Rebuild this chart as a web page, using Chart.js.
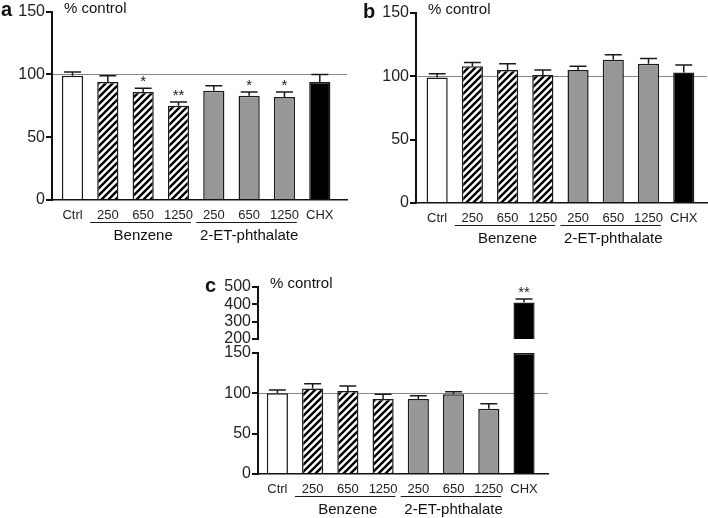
<!DOCTYPE html>
<html>
<head>
<meta charset="utf-8">
<script src="https://cdn.jsdelivr.net/npm/chart.js@4.4.1/dist/chart.umd.min.js"></script>
<style>
  html, body { margin: 0; padding: 0; background: #fff; }
  #wrap { position: relative; width: 708px; height: 518px; }
  canvas { position: absolute; }
</style>
</head>
<body>
<div id="wrap">
  <canvas id="chartA" width="354" height="260" style="left:0;top:0"></canvas>
  <canvas id="chartB" width="354" height="260" style="left:354px;top:0"></canvas>
  <canvas id="chartC" width="360" height="248" style="left:190px;top:270px"></canvas>
</div>
<script>
// Values (% of control, mean + upper error)
const categories = ['Ctrl', '250', '650', '1250', '250', '650', '1250', 'CHX'];
const groupNames = ['Benzene', '2-ET-phthalate'];
const groupFirst = [1, 4];
const groupLast = [3, 6];

const valuesA = [99, 94, 86, 75, 87, 83, 82, 94];
const errorsA = [3, 5, 3, 3, 4, 3, 4, 6];
const starsA = ['', '', '*', '**', '', '*', '*', ''];

const valuesB = [99, 108, 105, 101, 105, 113, 110, 103];
const errorsB = [3, 3, 5, 4, 3, 4, 4, 6];
const starsB = ['', '', '', '', '', '', '', ''];

const valuesC = [100, 106, 103, 93, 93, 99, 81, 411];
const errorsC = [4, 6, 6, 6, 4, 3, 6, 20];
const starsC = ['', '', '', '', '', '', '', '**'];

const yTicks = [0, 50, 100, 150];
const yTicksHigh = [200, 300, 400, 500];
const refValue = 100;

const FONT = "'Liberation Sans', Arial, sans-serif";
const INK = '#1a1a1a';
const AXIS = '#111';
const GRAY = '#979797';

// diagonal hatch for the benzene bars
function makeHatch(ctx) {
    const s = 7;
    const c = document.createElement('canvas');
    c.width = s; c.height = s;
    const g = c.getContext('2d');
    g.fillStyle = '#fff';
    g.fillRect(0, 0, s, s);
    g.strokeStyle = '#000';
    g.lineWidth = 2.4;
    g.beginPath();
    g.moveTo(0, s); g.lineTo(s, 0);
    g.moveTo(-s / 2, s / 2); g.lineTo(s / 2, -s / 2);
    g.moveTo(s / 2, s * 1.5); g.lineTo(s * 1.5, s / 2);
    g.stroke();
    return ctx.createPattern(c, 'repeat');
}

function barFills(ctx) {
    const hatch = makeHatch(ctx);
    return categories.map((c, i) => {
        if (i === 0) return '#fff';
        if (i >= groupFirst[0] && i <= groupLast[0]) return hatch;
        if (i >= groupFirst[1] && i <= groupLast[1]) return GRAY;
        return '#000';
    });
}

// y axis spine + outward ticks for each (sub)scale, drawn last
function makeAxisLines(yAxes) {
    return {
        id: 'axisLines',
        afterDraw(chart) {
            const { ctx, chartArea } = chart;
            ctx.save();
            ctx.setTransform(1, 0, 0, 1, 0, 0);
            ctx.globalAlpha = 1;
            ctx.globalCompositeOperation = 'source-over';
            ctx.fillStyle = AXIS;
            const ax = Math.round(chartArea.left);
            yAxes.forEach(([id, list]) => {
                const s = chart.scales[id];
                const yTop = Math.round(s.getPixelForValue(list[list.length - 1]));
                const yBot = Math.round(s.getPixelForValue(list[0]));
                ctx.fillRect(ax - 1, yTop, 2, yBot - yTop + 1);
                list.forEach(v => {
                    const ty = Math.round(s.getPixelForValue(v));
                    ctx.fillRect(ax - 6, ty - 1, 6, 2);
                });
            });
            ctx.restore();
        }
    };
}

// reference line, error bars, stars, letters and group labels
function makeDecor(cfg) {
    return {
        id: 'decor',
        beforeDatasetsDraw(chart) {
            const { ctx, chartArea } = chart;
            const y = Math.round(chart.scales[cfg.refAxis].getPixelForValue(refValue)) + 0.5;
            ctx.save();
            ctx.strokeStyle = '#858585';
            ctx.lineWidth = 1;
            ctx.beginPath();
            ctx.moveTo(chartArea.left, y);
            ctx.lineTo(chartArea.right, y);
            ctx.stroke();
            ctx.restore();
        },
        afterDatasetsDraw(chart) {
            const ctx = chart.ctx;
            ctx.save();
            ctx.strokeStyle = INK;
            ctx.lineWidth = 1.5;
            ctx.fillStyle = '#222';
            ctx.font = '15px ' + FONT;
            ctx.textAlign = 'center';
            ctx.textBaseline = 'bottom';
            chart.data.datasets.forEach((ds, di) => {
                const meta = chart.getDatasetMeta(di);
                const ys = chart.scales[meta.yAxisID];
                meta.data.forEach((bar, i) => {
                    const err = ds.errs[i];
                    const v = ds.data[i].y;
                    if (err == null || v == null) return;
                    const top = ys.getPixelForValue(v + err);
                    const half = bar.width * 0.4;
                    ctx.beginPath();
                    ctx.moveTo(bar.x, bar.y);
                    ctx.lineTo(bar.x, top);
                    ctx.moveTo(bar.x - half, top);
                    ctx.lineTo(bar.x + half, top);
                    ctx.stroke();
                    if (ds.stars[i]) ctx.fillText(ds.stars[i], bar.x, top + 1);
                });
            });
            ctx.restore();
        },
        afterDraw(chart) {
            const { ctx, chartArea } = chart;
            const xs = chart.scales.x;
            const base = chartArea.bottom;
            ctx.save();
            ctx.fillStyle = '#111';
            ctx.textBaseline = 'middle';
            ctx.textAlign = 'left';
            ctx.font = 'bold 20px ' + FONT;
            ctx.fillText(cfg.letter, cfg.letterX, chartArea.top - 1);
            ctx.font = '15px ' + FONT;
            ctx.fillText('% control', chartArea.left + 12, chartArea.top - 3);

            ctx.strokeStyle = INK;
            ctx.lineWidth = 1.2;
            ctx.textAlign = 'center';
            groupNames.forEach((name, g) => {
                const x1 = xs.getPixelForValue(groupFirst[g] - 0.5);
                const x2 = xs.getPixelForValue(groupLast[g] + 0.35);
                const y = Math.round(base + 22) + 0.5;
                ctx.beginPath();
                ctx.moveTo(x1, y);
                ctx.lineTo(x2, y);
                ctx.stroke();
                const xc = (xs.getPixelForValue(groupFirst[g]) + xs.getPixelForValue(groupLast[g])) / 2;
                ctx.fillText(name, xc, base + 36);
            });
            ctx.restore();
        }
    };
}

function yAxis(list, width, extra) {
    return Object.assign({
        type: 'linear',
        position: 'left',
        min: list[0],
        max: list[list.length - 1],
        beginAtZero: false,
        afterBuildTicks: s => { s.ticks = list.map(v => ({ value: v })); },
        afterFit: s => { s.width = width; },
        grid: { display: true, drawOnChartArea: false, drawTicks: true, tickLength: 5, color: AXIS, lineWidth: 2 },
        border: { display: true, color: AXIS, width: 2 },
        ticks: { color: '#222', font: { family: FONT, size: 16 }, padding: 2, autoSkip: false }
    }, extra || {});
}

function xAxis(minV, maxV, height) {
    return {
        type: 'linear',
        min: minV,
        max: maxV,
        offset: false,
        afterBuildTicks: s => { s.ticks = categories.map((c, i) => ({ value: i })); },
        afterFit: s => { s.height = height; },
        grid: { display: false, drawTicks: false, offset: false },
        border: { display: true, color: AXIS, width: 1.5 },
        ticks: {
            color: '#222', font: { family: FONT, size: 13 }, padding: 8,
            maxRotation: 0, autoSkip: false,
            callback: v => categories[v] ?? ''
        }
    };
}

function barDataset(values, errs, stars, fills, extra) {
    return Object.assign({
        data: values.map((v, i) => ({ x: i, y: v })),
        backgroundColor: fills,
        borderColor: INK,
        borderWidth: 1.5,
        barPercentage: 0.6,
        categoryPercentage: 1,
        errs: errs,
        stars: stars
    }, extra || {});
}

function baseOptions(padding, scales) {
    return {
        responsive: false,
        animation: false,
        layout: { padding: padding },
        scales: scales,
        plugins: {
            legend: { display: false },
            tooltip: { enabled: false }
        }
    };
}

// panel a
const ctxA = document.getElementById('chartA').getContext('2d');
new Chart(ctxA, {
    type: 'bar',
    data: { datasets: [barDataset(valuesA, errorsA, starsA, barFills(ctxA))] },
    options: baseOptions(
        { top: 10, right: 7, left: 0, bottom: 0 },
        { x: xAxis(-0.58, 7.77, 60), y: yAxis(yTicks, 52) }
    ),
    plugins: [
        makeDecor({ letter: 'a', letterX: 1, refAxis: 'y' }),
        makeAxisLines([['y', yTicks]])
    ]
});

// panel b
const ctxB = document.getElementById('chartB').getContext('2d');
new Chart(ctxB, {
    type: 'bar',
    data: { datasets: [barDataset(valuesB, errorsB, starsB, barFills(ctxB))] },
    options: baseOptions(
        { top: 13, right: 1, left: 0, bottom: 0 },
        { x: xAxis(-0.6, 7.66, 57), y: yAxis(yTicks, 62) }
    ),
    plugins: [
        makeDecor({ letter: 'b', letterX: 9, refAxis: 'y' }),
        makeAxisLines([['y', yTicks]])
    ]
});

// panel c: broken y axis built from stacked scales
const lowMax = yTicks[yTicks.length - 1];
const ctxC = document.getElementById('chartC').getContext('2d');
const fillsC = barFills(ctxC);
new Chart(ctxC, {
    type: 'bar',
    data: {
        datasets: [
            barDataset(valuesC.map(v => Math.min(v, lowMax)),
                errorsC.map((e, i) => valuesC[i] > lowMax ? null : e),
                starsC.map((s, i) => valuesC[i] > lowMax ? '' : s),
                fillsC, { yAxisID: 'yLow', grouped: false }),
            barDataset(valuesC.map(v => v > lowMax ? v : null),
                errorsC.map((e, i) => valuesC[i] > lowMax ? e : null),
                starsC.map((s, i) => valuesC[i] > lowMax ? s : ''),
                fillsC, { yAxisID: 'yHigh', grouped: false })
        ]
    },
    options: baseOptions(
        { top: 17, right: 2, left: 0, bottom: 0 },
        {
            x: xAxis(-0.55, 7.68, 44),
            yLow: yAxis(yTicks, 68, { stack: 'c', stackWeight: 121, weight: 1 }),
            yGap: { type: 'linear', display: false, stack: 'c', stackWeight: 14, weight: 2, position: 'left' },
            yHigh: yAxis(yTicksHigh, 68, { stack: 'c', stackWeight: 52, weight: 3 })
        }
    ),
    plugins: [
        makeDecor({ letter: 'c', letterX: 15, refAxis: 'yLow' }),
        makeAxisLines([['yLow', yTicks], ['yHigh', yTicksHigh]])
    ]
});
</script>
</body>
</html>
